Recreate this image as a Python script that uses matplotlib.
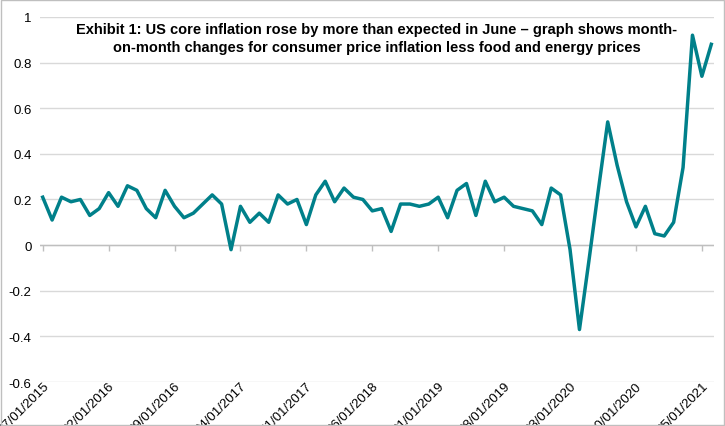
import numpy as np
import matplotlib
matplotlib.use("Agg")
import matplotlib.pyplot as plt

plt.rcParams['font.family'] = ['Liberation Sans', 'DejaVu Sans']

# monthly core CPI change, 07/2015 .. 06/2021
v2015 = [0.21, 0.11, 0.21, 0.19, 0.20, 0.13]
v2016 = [0.16, 0.23, 0.17, 0.26, 0.24, 0.16, 0.12, 0.24, 0.17, 0.12, 0.14, 0.18]
v2017 = [0.22, 0.18, -0.02, 0.17, 0.10, 0.14, 0.10, 0.22, 0.18, 0.20, 0.09, 0.22]
v2018 = [0.28, 0.19, 0.25, 0.21, 0.20, 0.15, 0.16, 0.06, 0.18, 0.18, 0.17, 0.18]
v2019 = [0.21, 0.12, 0.24, 0.27, 0.13, 0.28, 0.19, 0.21, 0.17, 0.16, 0.15, 0.09]
v2020 = [0.25, 0.22, -0.02, -0.37, -0.07, 0.24, 0.54, 0.35, 0.19, 0.08, 0.17, 0.05]
v2021 = [0.04, 0.10, 0.34, 0.92, 0.74, 0.88]
vals = v2015 + v2016 + v2017 + v2018 + v2019 + v2020 + v2021

tick_labels = ["07/01/2015", "02/01/2016", "09/01/2016", "04/01/2017", "11/01/2017",
               "06/01/2018", "01/01/2019", "08/01/2019", "03/01/2020", "10/01/2020",
               "05/01/2021"]

x = np.arange(len(vals))
ticks = np.arange(0, len(vals), 7)

fig = plt.figure(figsize=(7.25, 4.27), dpi=100)
ax = fig.add_axes([0.055, 0.103, 0.93, 0.855])

for yv in np.arange(-0.6, 1.01, 0.2):
    ax.axhline(yv, color="#d9d9d9", lw=1, zorder=0)
ax.axhline(0, color="#bfbfbf", lw=1, zorder=1)
ax.vlines(ticks, -0.025, 0, color="#bfbfbf", lw=1)

ax.plot(x, vals, color="#00808a", lw=2.5, zorder=3)

ax.set_xlim(-0.3, len(vals) - 0.7)
ax.set_ylim(-0.6, 1.0)
ax.set_yticks(np.arange(-0.6, 1.01, 0.2))
ax.set_yticklabels(["-0.6", "-0.4", "-0.2", "0", "0.2", "0.4", "0.6", "0.8", "1"], fontsize=9.5)
ax.set_xticks(ticks)
ax.set_xticklabels(tick_labels, rotation=45, ha="right", rotation_mode="anchor", fontsize=9.5)
ax.tick_params(axis="x", length=0, pad=-2)
ax.tick_params(axis="y", length=0, pad=6)
for s in ax.spines.values():
    s.set_visible(False)

ax.text(0.5, 0.985, "Exhibit 1: US core inflation rose by more than expected in June \u2013 graph shows month-\non-month changes for consumer price inflation less food and energy prices",
        transform=ax.transAxes, ha="center", va="top", fontsize=10.5, fontweight="bold",
        linespacing=1.3)

fig.patches.append(plt.Rectangle((0.001, 0.002), 0.997, 0.995, transform=fig.transFigure,
                                 fill=False, edgecolor="#bfbfbf", lw=1))
fig.savefig("out.png", dpi=100)
